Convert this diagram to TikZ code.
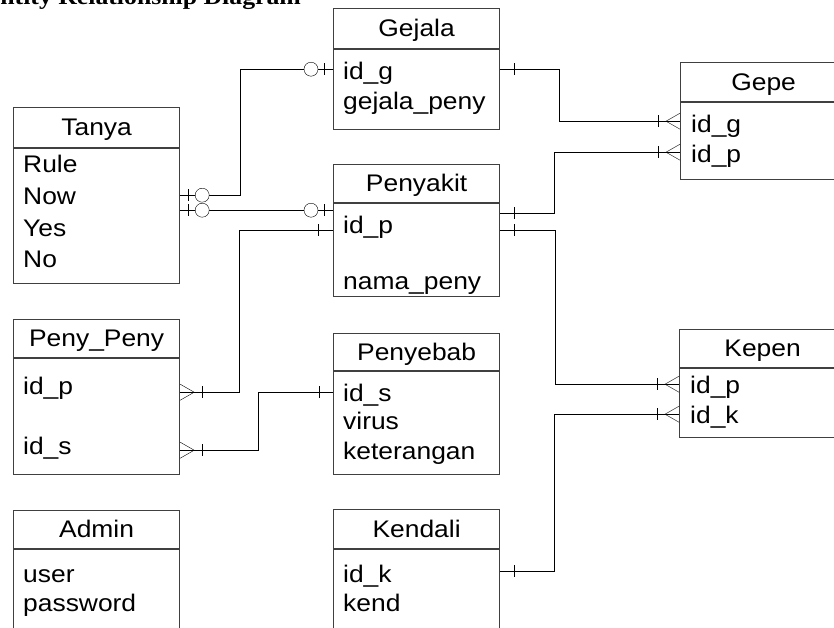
\documentclass[tikz,border=0pt]{standalone}
\usepackage{fontspec}
\setmainfont{Liberation Sans}[FakeStretch=1.1]
\newfontfamily\titlefont{Liberation Serif}[FakeStretch=1.12]
\usetikzlibrary{positioning}

\tikzset{
  bar/.pic={\draw (0,-6) -- (0,6);},
  ring/.pic={\draw[fill=white] (0,0) circle (7pt);},
  crow/.pic={\draw (0,-8) -- (14,0) -- (0,8);},
}

\begin{document}
\begin{tikzpicture}[x=1pt, y=-1pt,
    every node/.style={font=\fontsize{24pt}{28pt}\selectfont},
    ehead/.style={draw=black!75, line width=1.2pt, minimum width=166pt, inner sep=0pt,
      text height=18pt, text depth=2pt, anchor=north west},
    ebody/.style={draw=black!75, line width=1.2pt, minimum width=166pt, inner sep=0pt},
    attr/.style={anchor=base west, inner sep=0pt},
    link/.style={line width=0.9pt}]
    \useasboundingbox (0,0) rectangle (834,627);
    \clip (0,0) rectangle (834,627);

    % Title
    \node[anchor=base west, inner sep=0pt, font=\titlefont\bfseries\fontsize{23pt}{26pt}\selectfont]
      (title) at (-17,4) {Entity Relationship Diagram};

    % Gejala
    \node[ehead, minimum height=40pt] (gejala) at (333,8) {Gejala};
    \node[ebody, minimum height=80pt, below=0pt of gejala] (gejala-b) {};
    \node[attr] (gejala-a1) at (343,79) {id\_g};
    \node[attr] (gejala-a2) at (343,109) {gejala\_peny};

    % Tanya
    \node[ehead, minimum height=40pt] (tanya) at (13,107) {Tanya};
    \node[ebody, minimum height=135pt, below=0pt of tanya] (tanya-b) {};
    \node[attr] (tanya-a1) at (23,172) {Rule};
    \node[attr] (tanya-a2) at (23,204) {Now};
    \node[attr] (tanya-a3) at (23,236) {Yes};
    \node[attr] (tanya-a4) at (23,267) {No};

    % Penyakit
    \node[ehead, minimum height=38pt] (penyakit) at (333,164) {Penyakit};
    \node[ebody, minimum height=93pt, below=0pt of penyakit] (penyakit-b) {};
    \node[attr] (penyakit-a1) at (343,233) {id\_p};
    \node[attr] (penyakit-a2) at (343,289) {nama\_peny};

    % Gepe
    \node[ehead, minimum height=39pt] (gepe) at (680,62) {Gepe};
    \node[ebody, minimum height=77pt, below=0pt of gepe] (gepe-b) {};
    \node[attr] (gepe-a1) at (691,132) {id\_g};
    \node[attr] (gepe-a2) at (691,162) {id\_p};

    % Peny_Peny
    \node[ehead, minimum height=38pt] (peny) at (13,319) {Peny\_Peny};
    \node[ebody, minimum height=116pt, below=0pt of peny] (peny-b) {};
    \node[attr] (peny-a1) at (23,394) {id\_p};
    \node[attr] (peny-a2) at (23,454) {id\_s};

    % Penyebab
    \node[ehead, minimum height=37pt] (penyebab) at (333,333) {Penyebab};
    \node[ebody, minimum height=103pt, below=0pt of penyebab] (penyebab-b) {};
    \node[attr] (penyebab-a1) at (343,401) {id\_s};
    \node[attr] (penyebab-a2) at (343,429) {virus};
    \node[attr] (penyebab-a3) at (343,459) {keterangan};

    % Kepen
    \node[ehead, minimum height=38pt] (kepen) at (679,329) {Kepen};
    \node[ebody, minimum height=69pt, below=0pt of kepen] (kepen-b) {};
    \node[attr] (kepen-a1) at (690,393) {id\_p};
    \node[attr] (kepen-a2) at (690,423) {id\_k};

    % Admin
    \node[ehead, minimum height=38pt] (admin) at (13,510) {Admin};
    \node[ebody, minimum height=130pt, below=0pt of admin] (admin-b) {};
    \node[attr] (admin-a1) at (23,582) {user};
    \node[attr] (admin-a2) at (23,611) {password};

    % Kendali
    \node[ehead, minimum height=39pt] (kendali) at (333,509) {Kendali};
    \node[ebody, minimum height=130pt, below=0pt of kendali] (kendali-b) {};
    \node[attr] (kendali-a1) at (343,582) {id\_k};
    \node[attr] (kendali-a2) at (343,611) {kend};

    % Ports on the boxes
    \path (tanya-b.north east) ++(0,47) coordinate (tanya-p1) ++(0,15) coordinate (tanya-p2);
    \path (gejala-b.north west) ++(0,20) coordinate (gejala-w);
    \path (gejala-b.north east) ++(0,20) coordinate (gejala-e);
    \path (penyakit-b.north west) ++(0,7) coordinate (penyakit-w1) ++(0,20) coordinate (penyakit-w2);
    \path (penyakit-b.north east) ++(0,10) coordinate (penyakit-e1) ++(0,17) coordinate (penyakit-e2);
    \path (gepe-b.north west) ++(0,19) coordinate (gepe-p1) ++(0,31) coordinate (gepe-p2);
    \path (peny-b.north east) ++(0,34) coordinate (peny-p1) ++(0,58) coordinate (peny-p2);
    \path (penyebab-b.north west) ++(0,21) coordinate (penyebab-w);
    \path (kepen-b.north west) ++(0,16) coordinate (kepen-p1) ++(0,30) coordinate (kepen-p2);
    \path (kendali-b.north east) ++(0,22) coordinate (kendali-e);

    % Relationships
    \draw[link] (gejala-w) -- ++(-93,0) |- (tanya-p1);
    \draw[link] (tanya-p2) -- (penyakit-w1);
    \draw[link] (penyakit-w2) -- ++(-94,0) |- (peny-p1);
    \draw[link] (penyebab-w) -- ++(-75,0) |- (peny-p2);
    \draw[link] (gejala-e) -- ++(59,0) |- (gepe-p1);
    \draw[link] (penyakit-e1) -- ++(54,0) |- (gepe-p2);
    \draw[link] (penyakit-e2) -- ++(55,0) |- (kepen-p1);
    \draw[link] (kendali-e) -- ++(54,0) |- (kepen-p2);

    % Zero or one ends
    \foreach \p in {tanya-p1,tanya-p2} {
        \pic at ([xshift=8pt]\p) {bar};
        \pic at ([xshift=22pt]\p) {ring};
    }
    \foreach \p in {gejala-w,penyakit-w1} {
        \pic at ([xshift=-9pt]\p) {bar};
        \pic at ([xshift=-22pt]\p) {ring};
    }

    % One ends
    \pic at ([xshift=-15pt]penyakit-w2) {bar};
    \pic at ([xshift=-14pt]penyebab-w) {bar};
    \foreach \p in {gejala-e,penyakit-e1,penyakit-e2,kendali-e}
        \pic at ([xshift=14pt]\p) {bar};

    % Many ends
    \foreach \p in {peny-p1,peny-p2} {
        \pic at (\p) {crow};
        \pic at ([xshift=22pt]\p) {bar};
    }
    \foreach \p in {gepe-p1,gepe-p2,kepen-p1,kepen-p2} {
        \pic[xscale=-1] at (\p) {crow};
        \pic at ([xshift=-22pt]\p) {bar};
    }
\end{tikzpicture}
\end{document}
